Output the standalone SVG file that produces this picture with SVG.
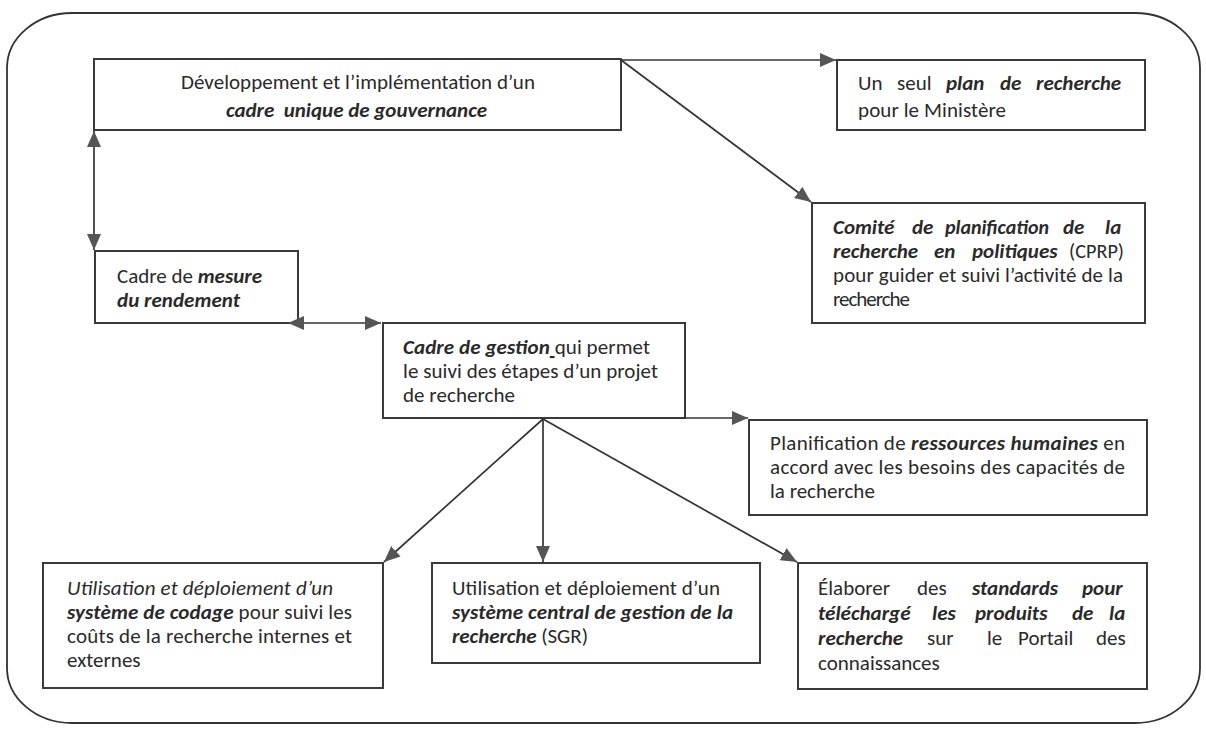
<svg xmlns="http://www.w3.org/2000/svg" width="1206" height="729" viewBox="0 0 1206 729">
<style>
.t{font-family:Carlito,Lato,"Open Sans",sans-serif;font-size:21px;fill:#2a2a2a}
.bi{font-weight:bold;font-style:italic}
.i{font-style:italic}
.box{fill:#fff;stroke:#3a3a3a;stroke-width:2}
.c{fill:none;stroke:#333;stroke-width:1.7}
.u{text-decoration:underline}
</style>
<defs>
<marker id="arr" viewBox="0 0 16 14" refX="16" refY="7" markerWidth="16" markerHeight="14" orient="auto-start-reverse" markerUnits="userSpaceOnUse">
<path d="M0,0 L16,7 L0,14 z" fill="#555"/>
</marker>
</defs>
<rect width="1206" height="729" fill="#fff"/>
<path id="frame" d="M72,13 H1135 A65 55 0 0 1 1200,68 V668 A65 55 0 0 1 1135,723 H72 A65 55 0 0 1 7,668 V68 A65 55 0 0 1 72,13 Z" fill="none" stroke="#333" stroke-width="1.8"/>

<g id="n-gouvernance">
<rect class="box" x="94" y="59" width="527" height="71"/>
<text class="t" x="181" y="89" textLength="354" lengthAdjust="spacing">Développement et l’implémentation d’un</text>
<text class="t bi" x="226" y="117" textLength="261" lengthAdjust="spacing">cadre&#160; unique de gouvernance</text>
</g>

<g id="n-plan">
<rect class="box" x="837" y="60" width="308" height="70"/>
<text class="t" y="90"><tspan x="858">Un</tspan><tspan x="897">seul</tspan><tspan class="bi" x="946">plan</tspan><tspan class="bi" x="1000">de</tspan><tspan class="bi" x="1036">recherche</tspan></text>
<text class="t" x="858" y="117" textLength="148" lengthAdjust="spacing">pour le Ministère</text>
</g>

<g id="n-cprp">
<rect class="box" x="812" y="203" width="333" height="120"/>
<text class="t bi" y="234"><tspan x="833">Comité</tspan><tspan x="912">de</tspan></text>
<text class="t bi" x="945" y="234" textLength="104" lengthAdjust="spacingAndGlyphs">planification</text>
<text class="t bi" y="234"><tspan x="1063">de</tspan><tspan x="1105">la</tspan></text>
<text class="t" y="258"><tspan class="bi" x="833">recherche</tspan><tspan class="bi" x="934">en</tspan><tspan class="bi" x="972">politiques</tspan></text>
<text class="t" x="1069" y="258" textLength="55" lengthAdjust="spacingAndGlyphs">(CPRP)</text>
<text class="t" x="833" y="282" textLength="290" lengthAdjust="spacing">pour guider et suivi l’activité de la</text>
<text class="t" x="833" y="306" textLength="77" lengthAdjust="spacing">recherche</text>
</g>

<g id="n-mesure">
<rect class="box" x="95" y="251" width="203" height="72"/>
<text class="t" x="117" y="283" textLength="145" lengthAdjust="spacing">Cadre de <tspan class="bi">mesure</tspan></text>
<text class="t bi" x="117" y="307" textLength="123" lengthAdjust="spacing">du rendement</text>
</g>

<g id="n-gestion">
<rect class="box" x="383" y="323" width="302" height="95"/>
<text class="t" x="403" y="354" textLength="247" lengthAdjust="spacing"><tspan class="bi">Cadre de gestion</tspan><tspan class="u">&#160;</tspan>qui permet</text>
<text class="t" x="403" y="378" textLength="255" lengthAdjust="spacing">le suivi des étapes d’un projet</text>
<text class="t" x="403" y="402" textLength="112" lengthAdjust="spacing">de recherche</text>
</g>

<g id="n-rh">
<rect class="box" x="749" y="420" width="398" height="95"/>
<text class="t" x="770" y="450" textLength="355" lengthAdjust="spacing">Planification de <tspan class="bi">ressources humaines</tspan> en</text>
<text class="t" x="770" y="474" textLength="355" lengthAdjust="spacing">accord avec les besoins des capacités de</text>
<text class="t" x="770" y="498">la recherche</text>
</g>

<g id="n-codage">
<rect class="box" x="43" y="563" width="340" height="125"/>
<text class="t i" x="67" y="595" textLength="266" lengthAdjust="spacing">Utilisation et déploiement d’un</text>
<text class="t" x="67" y="619" textLength="285" lengthAdjust="spacing"><tspan class="bi">système de codage</tspan> pour suivi les</text>
<text class="t" x="67" y="643" textLength="285" lengthAdjust="spacing">coûts de la recherche internes et</text>
<text class="t" x="67" y="667">externes</text>
</g>

<g id="n-sgr">
<rect class="box" x="432" y="563" width="328" height="100"/>
<text class="t" x="452" y="595" textLength="268" lengthAdjust="spacing">Utilisation et déploiement d’un</text>
<text class="t bi" x="452" y="619" textLength="281" lengthAdjust="spacing">système central de gestion de la</text>
<text class="t" x="452" y="643" textLength="136" lengthAdjust="spacing"><tspan class="bi">recherche</tspan> (SGR)</text>
</g>

<g id="n-standards">
<rect class="box" x="798" y="563" width="349" height="126"/>
<text class="t" y="595"><tspan x="818">Élaborer</tspan><tspan x="917">des</tspan><tspan class="bi" x="972">standards</tspan><tspan class="bi" x="1082">pour</tspan></text>
<text class="t bi" y="620"><tspan x="818">téléchargé</tspan><tspan x="932">les</tspan><tspan x="975">produits</tspan><tspan x="1072">de</tspan><tspan x="1109">la</tspan></text>
<text class="t" y="645"><tspan class="bi" x="818">recherche</tspan><tspan x="927">sur</tspan><tspan x="987">le</tspan><tspan x="1018">Portail</tspan><tspan x="1096">des</tspan></text>
<text class="t" x="818" y="670">connaissances</text>
</g>

<g id="connectors">
<line class="c" x1="621" y1="60" x2="836" y2="60" marker-end="url(#arr)"/>
<line class="c" x1="621" y1="60" x2="811" y2="202" marker-end="url(#arr)"/>
<line class="c" x1="94" y1="131" x2="94" y2="250" marker-start="url(#arr)" marker-end="url(#arr)"/>
<line class="c" x1="288" y1="323" x2="381" y2="323" marker-start="url(#arr)" marker-end="url(#arr)"/>
<line class="c" x1="685" y1="418" x2="748" y2="418" marker-end="url(#arr)"/>
<line class="c" x1="543" y1="419" x2="384" y2="562" marker-end="url(#arr)"/>
<line class="c" x1="543" y1="419" x2="543" y2="562" marker-end="url(#arr)"/>
<line class="c" x1="543" y1="419" x2="797" y2="562" marker-end="url(#arr)"/>
</g>
</svg>
